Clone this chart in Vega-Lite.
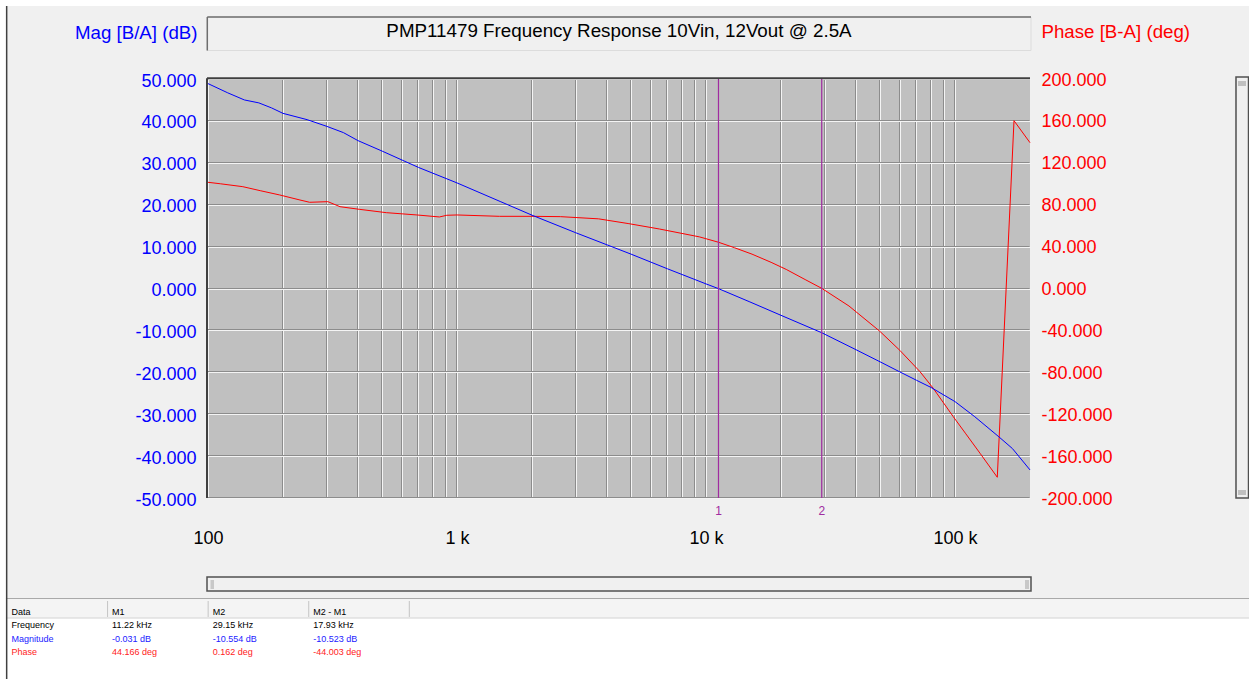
{
  "$schema": "https://vega.github.io/schema/vega-lite/v6.json",
  "width": 822,
  "height": 419,
  "autosize": {"type": "none"},
  "padding": {"left": 208, "top": 79, "right": 219, "bottom": 181},
  "datasets": {
    "mag": [
      {"f": 100, "mag": 48.9}, {"f": 120, "mag": 46.7}, {"f": 140, "mag": 45.0}, {"f": 160, "mag": 44.3},
      {"f": 180, "mag": 43.1}, {"f": 200, "mag": 41.8}, {"f": 250, "mag": 40.3}, {"f": 300, "mag": 38.7},
      {"f": 350, "mag": 37.2}, {"f": 400, "mag": 35.3}, {"f": 500, "mag": 32.8}, {"f": 700, "mag": 28.9},
      {"f": 1000, "mag": 25.2}, {"f": 1500, "mag": 20.7}, {"f": 2000, "mag": 17.5}, {"f": 3000, "mag": 13.3},
      {"f": 5000, "mag": 8.2}, {"f": 7000, "mag": 4.7}, {"f": 10000, "mag": 1.1}, {"f": 11220, "mag": -0.031},
      {"f": 15000, "mag": -3.2}, {"f": 20000, "mag": -6.4}, {"f": 29150, "mag": -10.554}, {"f": 40000, "mag": -14.6},
      {"f": 50000, "mag": -17.5}, {"f": 60000, "mag": -19.9}, {"f": 70000, "mag": -21.9}, {"f": 80000, "mag": -23.6},
      {"f": 100000, "mag": -27.0}, {"f": 120000, "mag": -30.6}, {"f": 150000, "mag": -35.4}, {"f": 170000, "mag": -38.2},
      {"f": 200000, "mag": -43.3}
    ],
    "phase": [
      {"f": 100, "ph": 101.4}, {"f": 112, "ph": 100.0}, {"f": 138, "ph": 97.2}, {"f": 162, "ph": 93.4},
      {"f": 194, "ph": 89.3}, {"f": 234, "ph": 84.5}, {"f": 256, "ph": 82.3}, {"f": 303, "ph": 82.9},
      {"f": 339, "ph": 78.1}, {"f": 405, "ph": 75.6}, {"f": 520, "ph": 72.4}, {"f": 690, "ph": 70.2},
      {"f": 850, "ph": 68.3}, {"f": 910, "ph": 69.9}, {"f": 1000, "ph": 70.2}, {"f": 1480, "ph": 68.9},
      {"f": 2000, "ph": 68.9}, {"f": 2600, "ph": 68.6}, {"f": 3700, "ph": 66.5}, {"f": 4900, "ph": 61.9},
      {"f": 6500, "ph": 56.8}, {"f": 9400, "ph": 49.3}, {"f": 11220, "ph": 44.166}, {"f": 13000, "ph": 38.95},
      {"f": 15300, "ph": 32.8}, {"f": 18250, "ph": 25.0}, {"f": 21000, "ph": 18.2}, {"f": 25000, "ph": 8.55},
      {"f": 29150, "ph": 0.162}, {"f": 37500, "ph": -16.7}, {"f": 49800, "ph": -40.7}, {"f": 60000, "ph": -59.0},
      {"f": 72330, "ph": -79.4}, {"f": 81760, "ph": -95.3}, {"f": 98400, "ph": -122.4}, {"f": 110000, "ph": -138.1},
      {"f": 126000, "ph": -157.3}, {"f": 147800, "ph": -180.2}, {"f": 172500, "ph": 160.2}, {"f": 200000, "ph": 139.2}
    ],
    "markers": [
      {"m": "1", "f": 11220},
      {"m": "2", "f": 29150}
    ],
    "table": [
      {"row": "Data", "col": "Data", "text": "Data"},
      {"row": "Data", "col": "M1", "text": "M1"},
      {"row": "Data", "col": "M2", "text": "M2"},
      {"row": "Data", "col": "M2 - M1", "text": "M2 - M1"},
      {"row": "Frequency", "col": "Data", "text": "Frequency"},
      {"row": "Frequency", "col": "M1", "text": "11.22 kHz"},
      {"row": "Frequency", "col": "M2", "text": "29.15 kHz"},
      {"row": "Frequency", "col": "M2 - M1", "text": "17.93 kHz"},
      {"row": "Magnitude", "col": "Data", "text": "Magnitude"},
      {"row": "Magnitude", "col": "M1", "text": "-0.031 dB"},
      {"row": "Magnitude", "col": "M2", "text": "-10.554 dB"},
      {"row": "Magnitude", "col": "M2 - M1", "text": "-10.523 dB"},
      {"row": "Phase", "col": "Data", "text": "Phase"},
      {"row": "Phase", "col": "M1", "text": "44.166 deg"},
      {"row": "Phase", "col": "M2", "text": "0.162 deg"},
      {"row": "Phase", "col": "M2 - M1", "text": "-44.003 deg"}
    ]
  },
  "layer": [
    {
      "layer": [
        {
          "data": {"values": [{}]},
          "mark": {"type": "rect", "fill": "#ffffff", "clip": false},
          "encoding": {
            "x": {"datum": 14, "type": "quantitative", "scale": {"type": "log", "domain": [100, 200000], "nice": false}, "axis": null}, "x2": {"datum": 1600000},
            "y": {"datum": 70, "type": "quantitative", "scale": {"domain": [-50, 50], "nice": false}, "axis": null}, "y2": {"datum": 67.42}
          }
        },
        {
          "data": {"values": [{}]},
          "mark": {"type": "rect", "fill": "#ffffff", "clip": false},
          "encoding": {
            "x": {"datum": 14, "type": "quantitative", "axis": null}, "x2": {"datum": 15.44},
            "y": {"datum": 70, "type": "quantitative", "axis": null}, "y2": {"datum": -95}
          }
        },
        {
          "data": {"values": [{}]},
          "mark": {"type": "rect", "fill": "#ffffff", "clip": false},
          "encoding": {
            "x": {"datum": 15.44, "type": "quantitative", "axis": null}, "x2": {"datum": 1600000},
            "y": {"datum": -78.7, "type": "quantitative", "axis": null}, "y2": {"datum": -95}
          }
        },
        {
          "data": {"values": [{}]},
          "mark": {"type": "rect", "fill": "#f4f4f4", "clip": false},
          "encoding": {
            "x": {"datum": 15.44, "type": "quantitative", "axis": null}, "x2": {"datum": 1600000},
            "y": {"datum": -74.0, "type": "quantitative", "axis": null}, "y2": {"datum": -78.64}
          }
        },
        {
          "data": {"values": [{}]},
          "mark": {"type": "rule", "color": "#a8a8a8", "strokeWidth": 1, "clip": false},
          "encoding": {
            "x": {"datum": 15.44, "type": "quantitative", "axis": null}, "x2": {"datum": 1600000},
            "y": {"datum": -73.99, "type": "quantitative", "axis": null}
          }
        },
        {
          "data": {"values": [{}]},
          "mark": {"type": "rule", "color": "#d5d5d5", "strokeWidth": 1, "clip": false},
          "encoding": {
            "x": {"datum": 15.44, "type": "quantitative", "axis": null}, "x2": {"datum": 1600000},
            "y": {"datum": -78.64, "type": "quantitative", "axis": null}
          }
        },
        {
          "data": {"values": [{}]},
          "mark": {"type": "rule", "color": "#404040", "strokeWidth": 1.5, "clip": false},
          "encoding": {
            "x": {"datum": 15.54, "type": "quantitative", "axis": null},
            "y": {"datum": 67.42, "type": "quantitative", "axis": null}, "y2": {"datum": -95}
          }
        },
        {
          "data": {"values": [{}]},
          "mark": {"type": "rect", "fill": "#f0f0f0", "stroke": "#dcdcdc", "strokeWidth": 1, "clip": false},
          "encoding": {
            "x": {"datum": 99.35, "type": "quantitative", "axis": null}, "x2": {"datum": 201860},
            "y": {"datum": 64.8, "type": "quantitative", "axis": null}, "y2": {"datum": 56.8}
          }
        },
        {
          "data": {"values": [{}]},
          "mark": {"type": "rule", "color": "#6e6e6e", "strokeWidth": 1.5, "clip": false},
          "encoding": {
            "x": {"datum": 99.35, "type": "quantitative", "axis": null}, "x2": {"datum": 201860},
            "y": {"datum": 64.8, "type": "quantitative", "axis": null}
          }
        },
        {
          "data": {"values": [{}]},
          "mark": {"type": "rule", "color": "#6e6e6e", "strokeWidth": 1.5, "clip": false},
          "encoding": {
            "x": {"datum": 99.35, "type": "quantitative", "axis": null},
            "y": {"datum": 64.8, "type": "quantitative", "axis": null}, "y2": {"datum": 56.8}
          }
        },
        {
          "data": {"values": [{}]},
          "mark": {"type": "text", "text": "PMP11479 Frequency Response 10Vin, 12Vout @ 2.5A", "font": "Liberation Sans", "fontSize": 18.8, "align": "center", "baseline": "alphabetic", "color": "#000000", "clip": false},
          "encoding": {
            "x": {"datum": 4472, "type": "quantitative", "axis": null},
            "y": {"datum": 59.95, "type": "quantitative", "axis": null}
          }
        },
        {
          "data": {"values": [{}]},
          "mark": {"type": "rect", "fill": "#f0f0f0", "stroke": "#505050", "strokeWidth": 1.5, "clip": false},
          "encoding": {
            "x": {"datum": 99.08, "type": "quantitative", "axis": null}, "x2": {"datum": 201860},
            "y": {"datum": -68.85, "type": "quantitative", "axis": null}, "y2": {"datum": -72.2}
          }
        },
        {
          "data": {"values": [{}]},
          "mark": {"type": "rect", "fill": "#c8c8c8", "clip": false},
          "encoding": {
            "x": {"datum": 102.34, "type": "quantitative", "axis": null}, "x2": {"datum": 105.7},
            "y": {"datum": -69.57, "type": "quantitative", "axis": null}, "y2": {"datum": -71.72}
          }
        },
        {
          "data": {"values": [{}]},
          "mark": {"type": "rect", "fill": "#c8c8c8", "clip": false},
          "encoding": {
            "x": {"datum": 190990, "type": "quantitative", "axis": null}, "x2": {"datum": 198220},
            "y": {"datum": -69.57, "type": "quantitative", "axis": null}, "y2": {"datum": -71.72}
          }
        },
        {
          "data": {"values": [{}]},
          "mark": {"type": "rect", "fill": "#f0f0f0", "stroke": "#505050", "strokeWidth": 1.5, "clip": false},
          "encoding": {
            "x": {"datum": 1343600, "type": "quantitative", "axis": null}, "x2": {"datum": 1508600},
            "y": {"datum": 50.48, "type": "quantitative", "axis": null}, "y2": {"datum": -50.0}
          }
        },
        {
          "data": {"values": [{}]},
          "mark": {"type": "rect", "fill": "#c0c0c0", "clip": false},
          "encoding": {
            "x": {"datum": 1368800, "type": "quantitative", "axis": null}, "x2": {"datum": 1474100},
            "y": {"datum": 49.52, "type": "quantitative", "axis": null}, "y2": {"datum": 48.33}
          }
        },
        {
          "data": {"values": [{}]},
          "mark": {"type": "rect", "fill": "#c0c0c0", "clip": false},
          "encoding": {
            "x": {"datum": 1368800, "type": "quantitative", "axis": null}, "x2": {"datum": 1474100},
            "y": {"datum": -48.09, "type": "quantitative", "axis": null}, "y2": {"datum": -49.28}
          }
        }
      ]
    },
    {
      "data": {"name": "phase"},
      "mark": {"type": "line", "color": "#ff0000", "strokeWidth": 1},
      "encoding": {
        "x": {
          "field": "f", "type": "quantitative",
          "scale": {"type": "log", "domain": [100, 200000], "nice": false},
          "axis": {
            "orient": "bottom",
            "values": [100, 200, 300, 400, 500, 600, 700, 800, 900, 1000, 2000, 3000, 4000, 5000, 6000, 7000, 8000, 9000, 10000, 20000, 30000, 40000, 50000, 60000, 70000, 80000, 90000, 100000],
            "labels": false, "grid": true, "gridColor": "#8c8c8c", "gridWidth": 1, "translate": -0.5, "title": null
          }
        },
        "y": {
          "field": "ph", "type": "quantitative",
          "scale": {"domain": [-200, 200], "nice": false},
          "axis": {
            "orient": "right",
            "values": [-200, -160, -120, -80, -40, 0, 40, 80, 120, 160, 200],
            "labelExpr": "(datum.value < 0 ? '-' : '') + format(abs(datum.value), '.3f')",
            "labelColor": "#ff0000", "labelPadding": 12, "labelOffset": 2, "labelFlush": false, "labelOverlap": false,
            "grid": true, "gridColor": "#8c8c8c", "gridWidth": 1, "translate": -0.5,
            "title": "Phase [B-A] (deg)", "titleColor": "#ff0000", "titleFontSize": 18.7, "titleAngle": 0, "titleAlign": "left",
            "titleBaseline": "middle", "titleX": 12, "titleY": -47
          }
        }
      }
    },
    {
      "data": {"name": "mag"},
      "mark": {"type": "line", "color": "#0000ff", "strokeWidth": 1},
      "encoding": {
        "x": {
          "field": "f", "type": "quantitative",
          "scale": {"type": "log", "domain": [100, 200000], "nice": false},
          "axis": {
            "orient": "bottom",
            "values": [100, 200, 300, 400, 500, 600, 700, 800, 900, 1000, 2000, 3000, 4000, 5000, 6000, 7000, 8000, 9000, 10000, 20000, 30000, 40000, 50000, 60000, 70000, 80000, 90000, 100000],
            "labelExpr": "datum.value == 100 ? '100' : datum.value == 1000 ? '1 k' : datum.value == 10000 ? '10 k' : datum.value == 100000 ? '100 k' : ''",
            "labelPadding": 31, "labelColor": "#000000", "labelFlush": false, "labelOverlap": false,
            "grid": true, "gridColor": "#f4f4f4", "gridWidth": 1, "title": null
          }
        },
        "y": {
          "field": "mag", "type": "quantitative",
          "scale": {"domain": [-50, 50], "nice": false},
          "axis": {
            "orient": "left",
            "values": [-50, -40, -30, -20, -10, 0, 10, 20, 30, 40, 50],
            "labelExpr": "(datum.value < 0 ? '-' : '') + format(abs(datum.value), '.3f')",
            "labelColor": "#0000ff", "labelPadding": 12, "labelOffset": 2, "labelFlush": false, "labelOverlap": false,
            "grid": true, "gridColor": "#f4f4f4", "gridWidth": 1,
            "title": "Mag [B/A] (dB)", "titleColor": "#0000ff", "titleFontSize": 18.7, "titleAngle": 0, "titleAlign": "right",
            "titleBaseline": "middle", "titleX": -11, "titleY": -47
          }
        }
      }
    },
    {
      "layer": [
        {
          "data": {"name": "markers"},
          "mark": {"type": "rule", "color": "#a02ca0", "strokeWidth": 1.2},
          "encoding": {
            "x": {"field": "f", "type": "quantitative", "scale": {"type": "log", "domain": [100, 200000], "nice": false}, "axis": null}
          }
        },
        {
          "data": {"name": "markers"},
          "mark": {"type": "text", "color": "#a02ca0", "font": "Liberation Sans", "fontSize": 12, "baseline": "middle", "align": "center", "clip": false},
          "encoding": {
            "x": {"field": "f", "type": "quantitative", "axis": null},
            "y": {"datum": -53, "type": "quantitative", "scale": {"domain": [-50, 50], "nice": false}, "axis": null},
            "text": {"field": "m"}
          }
        },
        {
          "data": {"values": [{}]},
          "mark": {"type": "rule", "color": "#404040", "strokeWidth": 2, "clip": false},
          "encoding": {
            "x": {"datum": 99.08, "type": "quantitative", "axis": null}, "x2": {"datum": 200000},
            "y": {"datum": 50.2, "type": "quantitative", "axis": null}
          }
        },
        {
          "data": {"values": [{}]},
          "mark": {"type": "rule", "color": "#404040", "strokeWidth": 2, "clip": false},
          "encoding": {
            "x": {"datum": 99.08, "type": "quantitative", "axis": null},
            "y": {"datum": 50.2, "type": "quantitative", "axis": null}, "y2": {"datum": -50}
          }
        }
      ]
    },
    {
      "data": {"name": "table"},
      "layer": [
        {
          "mark": {"type": "text", "align": "left", "baseline": "middle", "dx": 4.5, "font": "Liberation Sans", "fontSize": 9, "clip": false},
          "encoding": {
            "x": {"field": "col", "type": "nominal", "bandPosition": 0, "scale": {"type": "band", "domain": ["Data", "M1", "M2", "M2 - M1"], "range": [-201, 201.3], "paddingInner": 0, "paddingOuter": 0}, "axis": null},
            "y": {"field": "row", "type": "nominal", "scale": {"type": "point", "domain": ["Data", "Frequency", "Magnitude", "Phase"], "range": [533, 573], "padding": 0}, "axis": null},
            "text": {"field": "text"},
            "color": {"field": "row", "type": "nominal", "scale": {"domain": ["Data", "Frequency", "Magnitude", "Phase"], "range": ["#000000", "#000000", "#2222ff", "#ff2222"]}, "legend": null}
          }
        },
        {
          "transform": [{"filter": "datum.row == 'Data'"}],
          "mark": {"type": "rule", "color": "#c4c4c4", "strokeWidth": 1, "clip": false},
          "encoding": {
            "x": {"field": "col", "type": "nominal", "bandPosition": 1, "scale": {"type": "band", "domain": ["Data", "M1", "M2", "M2 - M1"], "range": [-201, 201.3], "paddingInner": 0, "paddingOuter": 0}, "axis": null},
            "y": {"datum": -74.58, "type": "quantitative", "scale": {"domain": [-50, 50], "nice": false}, "axis": null},
            "y2": {"datum": -78.4}
          }
        }
      ],
      "resolve": {"scale": {"y": "independent"}}
    }
  ],
  "resolve": {
    "scale": {"x": "independent", "y": "independent", "color": "independent"},
    "axis": {"x": "independent", "y": "independent"}
  },
  "config": {
    "background": "#f0f0f0",
    "view": {"fill": "#c0c0c0", "stroke": null},
    "font": "Liberation Sans",
    "axis": {
      "ticks": false, "tickSize": 0, "domain": false,
      "labelFont": "Liberation Sans", "labelFontSize": 18,
      "titleFont": "Liberation Sans", "titleFontSize": 18, "titleFontWeight": "normal"
    }
  }
}
